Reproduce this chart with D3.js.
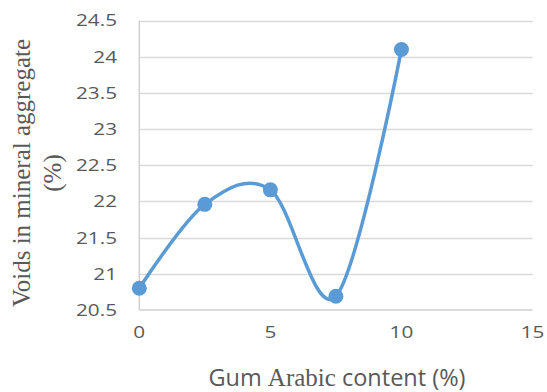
<!DOCTYPE html>
<html><head><meta charset="utf-8">
<script src="https://cdn.jsdelivr.net/npm/d3@7"></script>
<style>
body{margin:0;background:#fff;} svg{display:block;}
.serif{font-family:"Liberation Serif","DejaVu Serif",serif;}
.sans{font-family:"Open Sans",sans-serif;}
</style>
</head><body>
<script>
const xValues = [0, 2.5, 5, 7.5, 10];
const yValues = [20.8, 21.96, 22.16, 20.69, 24.1];
const xTicks = [0, 5, 10, 15];
const yTicks = [20.5, 21, 21.5, 22, 22.5, 23, 23.5, 24, 24.5];
const xTitleParts = ["Gum ", "Arabic", " content (%)"];
const yTitleLines = ["Voids in mineral aggregate", "(%)"];

const W = 547, H = 392;
const svg = d3.select("body").append("svg").attr("width", W).attr("height", H);
const x = d3.scaleLinear().domain([0, 15]).range([139.3, 532.5]);
const y = d3.scaleLinear().domain([20.5, 24.5]).range([310, 20.5]);

svg.append("g").selectAll("line").data(yTicks.slice(1)).join("line")
  .attr("x1", x(0)).attr("x2", x(15))
  .attr("y1", d => Math.round(y(d)) + 0.5).attr("y2", d => Math.round(y(d)) + 0.5)
  .attr("stroke", "#d9d9d9").attr("stroke-width", 1.3);

svg.append("line").attr("x1", x(0)).attr("x2", x(15))
  .attr("y1", y(20.5)).attr("y2", y(20.5)).attr("stroke", "#d0d0d0").attr("stroke-width", 1.5);
svg.append("line").attr("x1", x(0)).attr("x2", x(0))
  .attr("y1", y(20.5)).attr("y2", y(24.5)).attr("stroke", "#d0d0d0").attr("stroke-width", 1.5);

svg.append("g").selectAll("text").data(yTicks).join("text").attr("class", "sans")
  .attr("transform", d => `translate(117,${y(d)}) scale(1.22,1)`).attr("dy", "0.35em")
  .attr("text-anchor", "end").attr("font-size", 17)
  .attr("fill", "#595959").text(d => d);
svg.append("g").selectAll("text").data(xTicks).join("text").attr("class", "sans")
  .attr("transform", d => `translate(${x(d)},332) scale(1.22,1)`).attr("dy", "0.35em")
  .attr("text-anchor", "middle").attr("font-size", 17)
  .attr("fill", "#595959").text(d => d);

const xt = svg.append("text").attr("class", "sans").attr("x", 337).attr("y", 386)
  .attr("text-anchor", "middle").attr("font-size", 23.5).attr("fill", "#595959");
xTitleParts.forEach((t, i) => xt.append("tspan")
  .attr("class", i === 1 ? "serif" : "sans").attr("font-size", i === 1 ? 25 : 23.5)
  .text(t));

const yt = svg.append("text").attr("class", "serif")
  .attr("transform", "translate(0,173) rotate(-90)")
  .attr("text-anchor", "middle").attr("font-size", 25).attr("fill", "#595959");
yTitleLines.forEach((t, i) => yt.append("tspan").attr("x", 0).attr("y", 30 + i * 31).text(t));

const pts = xValues.map((v, i) => [v, yValues[i]]);
svg.append("path").datum(pts)
  .attr("d", d3.line().x(d => x(d[0])).y(d => y(d[1])).curve(d3.curveCardinal.tension(0)))
  .attr("fill", "none").attr("stroke", "#5b9bd5").attr("stroke-width", 3.5);
svg.append("g").selectAll("circle").data(pts).join("circle")
  .attr("cx", d => x(d[0])).attr("cy", d => y(d[1])).attr("r", 7.5)
  .attr("fill", "#5b9bd5");
</script>
</body></html>
